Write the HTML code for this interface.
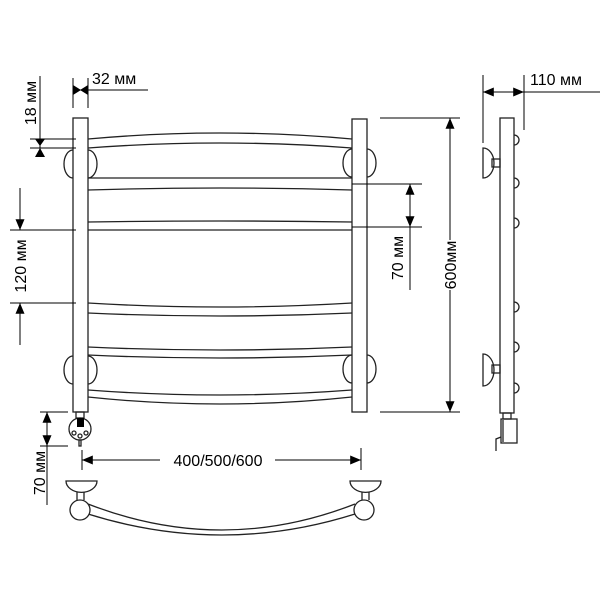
<!DOCTYPE html>
<html><head><style>
html,body{margin:0;padding:0;background:#fff}
svg{display:block}
text{font-family:"Liberation Sans",sans-serif;font-size:16px;fill:#000}
</style></head><body>
<svg width="600" height="600" viewBox="0 0 600 600" xmlns="http://www.w3.org/2000/svg">
<defs>
<marker id="a" viewBox="0 0 12 10" refX="12" refY="5" markerWidth="12" markerHeight="9" orient="auto-start-reverse" markerUnits="userSpaceOnUse"><path d="M0,0 L12,5 L0,10 z" fill="#000"/></marker>
</defs>
<g fill="none" stroke="#222" stroke-width="1.3">
<path d="M88,139 Q220,127 352,139"/>
<path d="M88,148 Q220,138 352,148"/>
<path d="M88,178 Q220,178 352,178"/>
<path d="M88,190 Q220,186 352,190"/>
<path d="M88,222 Q220,220 352,222"/>
<path d="M88,230 Q220,230 352,230"/>
<path d="M88,303 Q220,311 352,303"/>
<path d="M88,313 Q220,319 352,313"/>
<path d="M88,347 Q220,353 352,347"/>
<path d="M88,355 Q220,361 352,355"/>
<path d="M88,390 Q220,400 352,390"/>
<path d="M88,397 Q220,411 352,397"/>
<rect x="73" y="118" width="15" height="294" fill="#fff"/>
<rect x="352" y="119" width="15" height="293" fill="#fff"/>
<path d="M73,150 A9,14 0 0 0 73,178"/><path d="M88,150 A9,14 0 0 1 88,178"/>
<path d="M73,356 A9,14 0 0 0 73,384"/><path d="M88,356 A9,14 0 0 1 88,384"/>
<path d="M352,149 A9,14 0 0 0 352,177"/><path d="M367,149 A9,14 0 0 1 367,177"/>
<path d="M352,355 A9,14 0 0 0 352,383"/><path d="M367,355 A9,14 0 0 1 367,383"/>
<rect x="76" y="412" width="8" height="6"/>
<circle cx="80" cy="429" r="11"/>
<circle cx="74" cy="433" r="2"/><circle cx="80" cy="436" r="2"/><circle cx="86" cy="433" r="2"/>
<rect x="79" y="440" width="2" height="6"/>
<path d="M66,481 L97,481 A15,11 0 0 1 66,481 z" fill="#fff"/>
<path d="M77,492 L77,500 M84,492 L84,500"/>
<path d="M350,481 L381,481 A15,11 0 0 1 350,481 z" fill="#fff"/>
<path d="M362,492 L362,500 M369,492 L369,500"/>
<path d="M88,504 Q222,556 355,504"/>
<path d="M88,514 Q222,556 355,514"/>
<circle cx="80" cy="510" r="10" fill="#fff"/>
<circle cx="364" cy="510" r="10" fill="#fff"/>
<path d="M514,135 A5,5 0 0 1 514,145 M514,178 A5,5 0 0 1 514,188 M514,218 A5,5 0 0 1 514,228 M514,302 A5,5 0 0 1 514,312 M514,342 A5,5 0 0 1 514,352 M514,383 A5,5 0 0 1 514,393"/>
<rect x="500" y="118" width="14" height="295" fill="#fff"/>
<path d="M483,148 A11,15 0 0 1 483,178 z"/><rect x="492" y="159" width="8" height="8"/>
<path d="M483,354 A11,16 0 0 1 483,386 z"/><rect x="492" y="365" width="8" height="8"/>
<rect x="503" y="413" width="8" height="6"/>
<rect x="501" y="419" width="16" height="24"/>
<path d="M503,420 L503,442"/>
<path d="M496,451 L496,439 L501,437"/>
</g>
<g fill="#000">
<rect x="77" y="418" width="7" height="9"/>
<path d="M73,85 L81,90 L73,95 z M88,85 L80,90 L88,95 z"/>
<path d="M35,139 L40,146 L45,139 z M35,157 L40,148 L45,157 z"/>
</g>
<g stroke="#000" stroke-width="1" fill="none">
<path d="M73,78 L73,108 M88,78 L88,108"/>
<path d="M73,90 L148,90"/>
<path d="M30,139 L76,139 M30,148 L76,148"/>
<path d="M40,76 L40,156"/>
<path d="M10,230 L76,230 M10,303 L76,303"/>
<path d="M20,188 L20,230" marker-end="url(#a)"/><path d="M20,345 L20,303" marker-end="url(#a)"/>
<path d="M352,184 L422,184 M352,227 L422,227"/>
<path d="M410,205 L410,184" marker-end="url(#a)"/><path d="M410,205 L410,227" marker-end="url(#a)"/>
<path d="M410,227 L410,290"/>
<path d="M380,118 L460,118 M380,412 L460,412"/>
<path d="M450,240 L450,118" marker-end="url(#a)"/><path d="M450,290 L450,412" marker-end="url(#a)"/>
<path d="M483,75 L483,143 M524,75 L524,130"/>
<path d="M503,92 L483,92" marker-end="url(#a)"/><path d="M503,92 L524,92" marker-end="url(#a)"/>
<path d="M524,92 L600,92"/>
<path d="M40,412 L68,412 M40,446 L68,446"/>
<path d="M47,429 L47,412" marker-end="url(#a)"/><path d="M47,429 L47,446" marker-end="url(#a)"/>
<path d="M47,446 L47,505"/>
<path d="M82,450 L82,470 M361,448 L361,470"/>
<path d="M160,460 L82,460" marker-end="url(#a)"/><path d="M275,460 L361,460" marker-end="url(#a)"/>
</g>
<text x="92" y="84">32 мм</text>
<text x="530" y="85">110 мм</text>
<text x="218" y="466" text-anchor="middle">400/500/600</text>
<text transform="translate(36,103) rotate(-90)" text-anchor="middle">18 мм</text>
<text transform="translate(26,266) rotate(-90)" text-anchor="middle">120 мм</text>
<text transform="translate(403,258) rotate(-90)" text-anchor="middle">70 мм</text>
<text transform="translate(456,265) rotate(-90)" text-anchor="middle">600мм</text>
<text transform="translate(45,473) rotate(-90)" text-anchor="middle">70 мм</text>
</svg>
</body></html>
